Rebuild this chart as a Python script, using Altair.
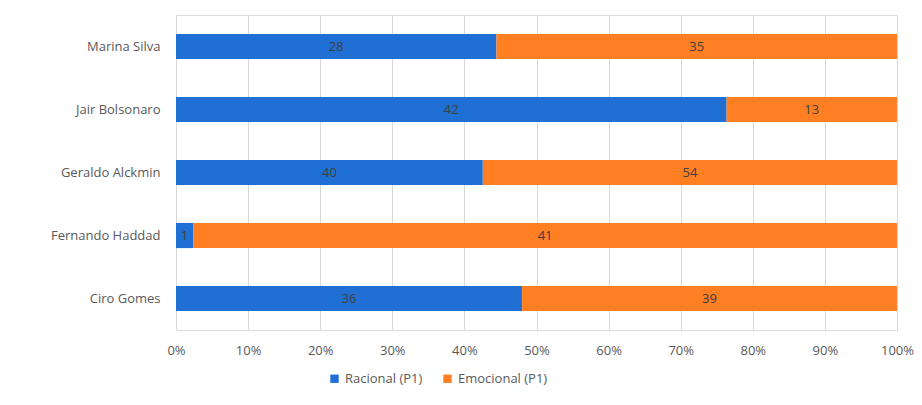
import altair as alt
import pandas as pd

candidates = ["Marina Silva", "Jair Bolsonaro", "Geraldo Alckmin", "Fernando Haddad", "Ciro Gomes"]
racional = [28, 42, 40, 1, 36]
emocional = [35, 13, 54, 41, 39]
series = ["Racional (P1)", "Emocional (P1)"]
colors = ["#1F6FD5", "#FF7F22"]

rows = []
for c, r, e in zip(candidates, racional, emocional):
    rows.append({"candidato": c, "serie": series[0], "ordem": 0, "valor": r})
    rows.append({"candidato": c, "serie": series[1], "ordem": 1, "valor": e})
df = pd.DataFrame(rows)

FONT = "Open Sans"

base = alt.Chart(df).transform_stack(
    stack="valor",
    groupby=["candidato"],
    as_=["inicio", "fim"],
    offset="normalize",
    sort=[alt.SortField("ordem", order="ascending")],
).transform_calculate(meio="(datum.inicio + datum.fim) / 2")

y_enc = alt.Y(
    "candidato:N",
    sort=candidates,
    title=None,
    scale=alt.Scale(paddingInner=0.6, paddingOuter=0.3),
    axis=alt.Axis(
        domain=False, ticks=False, labelPadding=16, labelFontSize=13,
        labelColor="#595959", labelFont=FONT, grid=False,
    ),
)

bars = base.mark_bar().encode(
    y=y_enc,
    x=alt.X(
        "inicio:Q",
        scale=alt.Scale(domain=[0, 1], nice=False),
        title=None,
        axis=alt.Axis(
            format="%", values=[i / 10 for i in range(11)], domain=False, ticks=False,
            grid=True, gridColor="#D9D9D9", labelPadding=14, labelFontSize=13,
            labelColor="#595959", labelFont=FONT, labelFlush=False,
        ),
    ),
    x2="fim:Q",
    color=alt.Color(
        "serie:N",
        sort=series,
        scale=alt.Scale(domain=series, range=colors),
        legend=alt.Legend(
            title=None, orient="none", direction="horizontal", legendX=152, legendY=357,
            symbolType="square", symbolSize=70, labelFontSize=13, labelColor="#595959",
            labelFont=FONT, columnPadding=18, symbolStrokeWidth=0,
        ),
    ),
)

labels = base.mark_text(fontSize=13, color="#404040", font=FONT).encode(
    y=alt.Y("candidato:N", sort=candidates),
    x=alt.X("meio:Q"),
    text=alt.Text("valor:Q"),
)

chart = (
    alt.layer(bars, labels)
    .properties(
        width=721, height=315, autosize="none",
        padding={"left": 176, "top": 15, "right": 25, "bottom": 75},
    )
    .configure_view(stroke=None)
    .configure(background="white")
)

chart.save("out.html", embed_options={"renderer": "svg", "actions": False})
